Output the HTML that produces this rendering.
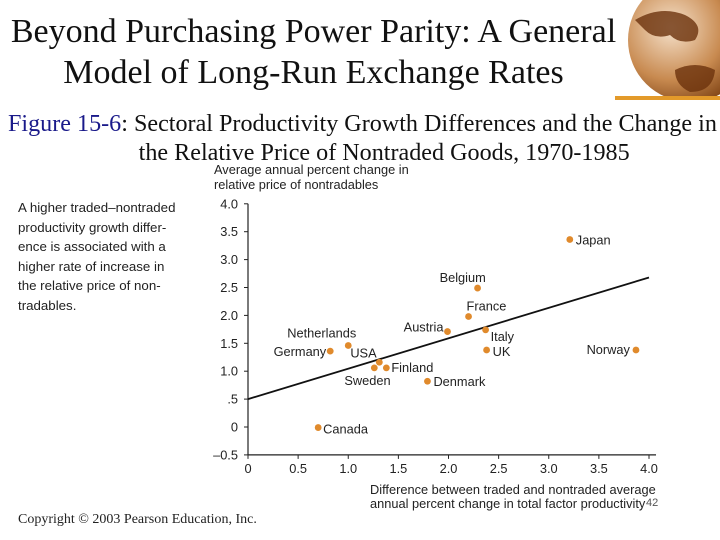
<!DOCTYPE html>
<html><head><meta charset="utf-8"><style>
body{margin:0;width:720px;height:540px;background:#fff;overflow:hidden;position:relative;font-family:"Liberation Serif",serif}
.t{position:absolute;white-space:nowrap}
svg text{font-family:"Liberation Sans",sans-serif}
</style></head><body>
<div class="t" style="left:0;width:627px;top:11px;text-align:center;font-size:34px;line-height:41px;color:#111">Beyond Purchasing Power Parity: A General<br>Model of Long-Run Exchange Rates</div>
<svg style="position:absolute;left:615px;top:0" width="105" height="100">
<defs><radialGradient id="g" cx="0.35" cy="0.4" r="0.7"><stop offset="0" stop-color="#f6e2cc"/><stop offset="0.6" stop-color="#c88a50"/><stop offset="1" stop-color="#7a3e10"/></radialGradient></defs>
<circle cx="75" cy="40" r="62" fill="url(#g)"/>
<path d="M20,20 Q45,5 70,15 Q90,25 80,40 Q65,45 55,35 Q40,40 30,30Z" fill="#6b320c" opacity="0.8"/>
<path d="M60,70 Q80,60 100,70 Q98,92 75,92 Q60,85 60,70Z" fill="#6b320c" opacity="0.8"/>
<rect x="0" y="96" width="105" height="4" fill="#e39a2a"/>
</svg>
<div class="t" style="left:8px;top:110px;font-size:24px;line-height:29px;color:#111;transform:scaleX(1.005);transform-origin:left"><span style="color:#1a1a8a">Figure 15-6</span>: Sectoral Productivity Growth Differences and the Change in<br><span style="padding-left:130px">the Relative Price of Nontraded Goods, 1970-1985</span></div>
<div class="t" style="left:18px;top:198px;font-family:'Liberation Sans',sans-serif;font-size:13.3px;line-height:19.5px;color:#222">A higher traded–nontraded<br>productivity growth differ-<br>ence is associated with a<br>higher rate of increase in<br>the relative price of non-<br>tradables.</div>
<div class="t" style="left:18px;top:512px;font-size:14px;color:#222">Copyright © 2003 Pearson Education, Inc.</div>
<svg id="chart" style="position:absolute;left:0;top:0" width="720" height="540"></svg>
<script>
const countries=["Japan","Belgium","France","Austria","Italy","UK","Norway","Netherlands","Germany","USA","Sweden","Finland","Denmark","Canada"];
const xVals=[3.21,2.29,2.20,1.99,2.37,2.38,3.87,1.00,0.82,1.31,1.26,1.38,1.79,0.70];
const yVals=[3.36,2.49,1.98,1.71,1.74,1.38,1.38,1.46,1.36,1.16,1.06,1.06,0.82,-0.01];
const xTicks=[0,0.5,1.0,1.5,2.0,2.5,3.0,3.5,4.0];
const xTickLabels=["0","0.5","1.0","1.5","2.0","2.5","3.0","3.5","4.0"];
const yTicks=[4.0,3.5,3.0,2.5,2.0,1.5,1.0,0.5,0,-0.5];
const yTickLabels=["4.0","3.5","3.0","2.5","2.0","1.5","1.0",".5","0","–0.5"];
const fitLine=[[0,0.5],[4.0,2.68]];
const xs=v=>248+v*100.25, ys=v=>427-v*55.8;
const FS=12.8;
const svg=document.getElementById('chart'),NS="http://www.w3.org/2000/svg";
function mk(t,a,p){const e=document.createElementNS(NS,t);for(const k in a)e.setAttribute(k,a[k]);(p||svg).appendChild(e);return e;}
const lo={Japan:[6,5,"start"],Belgium:[-38,-6,"start"],France:[-2,-6,"start"],Austria:[-4,0,"end"],Italy:[5,11,"start"],UK:[6,6,"start"],Norway:[-6,4,"end"],Netherlands:[-61,-8,"start"],Germany:[-4,5,"end"],USA:[-29,-5,"start"],Sweden:[-30,17,"start"],Finland:[5,4,"start"],Denmark:[6,5,"start"],Canada:[5,6,"start"]};
let a=mk('line',{x1:xs(0),y1:ys(-0.5),x2:xs(0),y2:ys(4.0),stroke:'#222','stroke-width':1.2});

a=mk('line',{x1:xs(0),y1:ys(-0.5),x2:xs(4.07),y2:ys(-0.5),stroke:'#222','stroke-width':1.2});

yTicks.forEach((v,i)=>{mk('line',{x1:xs(0)-4,x2:xs(0),y1:ys(v),y2:ys(v),stroke:'#222'});
const t=mk('text',{x:238,y:ys(v)+4.5,'text-anchor':'end','font-size':FS,fill:'#222'});t.textContent=yTickLabels[i];
});
xTicks.forEach((v,i)=>{mk('line',{x1:xs(v),x2:xs(v),y1:ys(-0.5),y2:ys(-0.5)+4,stroke:'#222'});
const t=mk('text',{x:xs(v),y:473,'text-anchor':'middle','font-size':FS,fill:'#222'});t.textContent=xTickLabels[i];
});
a=mk('line',{x1:xs(fitLine[0][0]),y1:ys(fitLine[0][1]),x2:xs(fitLine[1][0]),y2:ys(fitLine[1][1]),stroke:'#111','stroke-width':1.8});

countries.forEach((c,i)=>{const cx=xs(xVals[i]),cy=ys(yVals[i]);
const d=mk('circle',{cx:cx,cy:cy,r:3.4,fill:'#e08a2c'});

const o=lo[c];const t=mk('text',{x:cx+o[0],y:cy+o[1],'text-anchor':o[2],'font-size':FS,fill:'#222'});t.textContent=c;
});
[["Average annual percent change in",174],["relative price of nontradables",189]].forEach(r=>{const t=mk('text',{x:214,y:r[1],'font-size':FS,fill:'#222'});t.textContent=r[0];
});
[["Difference between traded and nontraded average",494],["annual percent change in total factor productivity",508]].forEach(r=>{const t=mk('text',{x:370,y:r[1],'font-size':FS,fill:'#222'});t.textContent=r[0];
});
const pn=mk('text',{x:646,y:506,'font-size':11,fill:'#555'});pn.textContent="42";

</script>
</body></html>
